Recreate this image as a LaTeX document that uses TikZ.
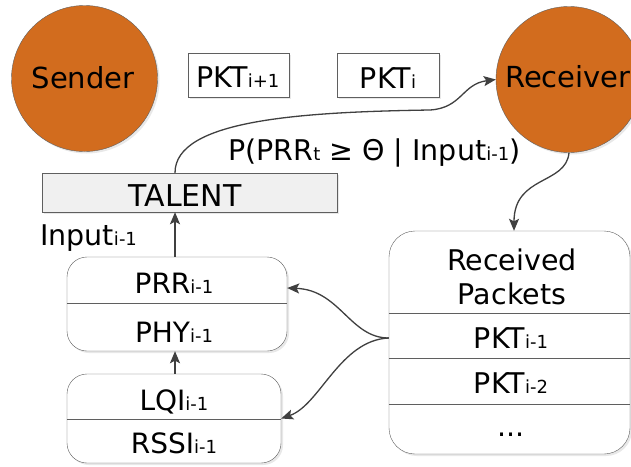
\documentclass[tikz,border=0pt]{standalone}
\usepackage{fontspec}
\setmainfont{DejaVu Sans}
\usetikzlibrary{arrows.meta,shadows}
\definecolor{orng}{RGB}{210,108,30}
\definecolor{edgec}{RGB}{95,95,95}
\definecolor{arrc}{RGB}{64,64,64}
\definecolor{talentfill}{RGB}{240,240,240}
\newcommand\subx[1]{{\fontsize{18}{18}\selectfont #1}}
\newcommand\fsz[1]{\fontsize{#1}{#1}\selectfont}
\begin{document}
\begin{tikzpicture}[x=1pt,y=-1pt,
  shd/.style={drop shadow={opacity=0.18,shadow xshift=2pt,shadow yshift=-2pt}},
  station/.style={circle,draw=edgec,fill=orng,minimum size=146pt,inner sep=0pt,shd},
  pkt/.style={draw=edgec,fill=white,inner sep=0pt,minimum height=44pt,shd},
  rbox/.style={draw=edgec,fill=white,rounded corners=20pt,inner sep=0pt,shd},
  lbl/.style={anchor=base,inner sep=0pt,font=\fsz{28}},
  conn/.style={draw=arrc,line width=1.3pt,-{Stealth[length=12pt,width=10pt,inset=2.5pt]}},
  divl/.style={draw=edgec,line width=0.8pt}
]
\useasboundingbox (0,0) rectangle (631,466);
\fill[white] (0,0) rectangle (631,466);
\clip (0,0) rectangle (631,466);

% stations
\node[station] (sender) at (84.5,78.5) {};
\node[station] (receiver) at (569,79.5) {};
\node[lbl,font=\fsz{29}] (sendertxt) at (83,88) {Sender};
\node[lbl,anchor=base west,font=\fsz{29}] (receivertxt) at (505,87) {Receiver};

% packets in flight
\node[pkt,minimum width=101pt] (pkta) at (238.5,75) {};
\node[pkt,minimum width=102pt] (pktb) at (388,75) {};
\node[lbl,font=\fsz{28.5}] (pktatxt) at (238,87) {PKT\subx{i+1}};
\node[lbl,font=\fsz{28.5}] (pktbtxt) at (388,88) {PKT\subx{i}};

% TALENT
\node[draw=edgec,fill=talentfill,minimum width=295pt,minimum height=39pt,inner sep=0pt,shd] (talent) at (189.5,192.5) {};
\node[lbl,font=\fsz{30}] (talenttxt) at (185,206) {TALENT};

% formula and input label
\node[lbl,anchor=base west,font=\fsz{28.5}] (formula) at (228,160) {P(PRR\subx{t} ≥ Θ | Input\subx{i-1})};
\node[lbl,anchor=base west,font=\fsz{28.5}] (inputtxt) at (40,245) {Input\subx{i-1}};

% feature boxes
\node[rbox,minimum width=220pt,minimum height=94pt] (upbox) at (177,304) {};
\node[rbox,minimum width=214pt,minimum height=89pt] (lowbox) at (174,418.5) {};
\path (0,303) coordinate (ya) (0,419) coordinate (yb);
\draw[divl] (upbox.west |- ya) -- (upbox.east |- ya);
\draw[divl] (lowbox.west |- yb) -- (lowbox.east |- yb);
\node[lbl] (prrtxt) at (174,293) {PRR\subx{i-1}};
\node[lbl] (phytxt) at (174,342) {PHY\subx{i-1}};
\node[lbl] (lqitxt) at (174,410) {LQI\subx{i-1}};
\node[lbl] (rssitxt) at (174,453) {RSSI\subx{i-1}};

% received packets
\node[rbox,rounded corners=26pt,minimum width=241pt,minimum height=223pt] (recbox) at (509.5,342.5) {};
\path (0,313) coordinate (yc) (0,358) coordinate (yd) (0,404) coordinate (ye);
\draw[divl] (recbox.west |- yc) -- (recbox.east |- yc);
\draw[divl] (recbox.west |- yd) -- (recbox.east |- yd);
\draw[divl] (recbox.west |- ye) -- (recbox.east |- ye);
\node[lbl,font=\fsz{28.5}] (rectxt1) at (512,270) {Received};
\node[lbl,font=\fsz{28.5}] (rectxt2) at (512,304) {Packets};
\node[lbl,font=\fsz{28.5}] (rpkt1) at (511,348) {PKT\subx{i-1}};
\node[lbl,font=\fsz{28.5}] (rpkt2) at (511,393) {PKT\subx{i-2}};
\node[lbl,font=\fsz{28.5}] (rdots) at (511,436) {...};

% connectors
\draw[conn] ([xshift=-14.5pt]talent.north) .. controls (175,120) and (300,112) .. (430,110)
   .. controls (462,108) and (462,84) .. (receiver.west);
\draw[conn] (receiver.south) .. controls (566,185) and (514,175) .. ([xshift=4.5pt]recbox.north);
\draw[conn] ([yshift=4.5pt]recbox.west) .. controls (350,338) and (340,290) .. ([yshift=16pt]upbox.east);
\draw[conn] ([yshift=4.5pt]recbox.west) .. controls (340,340) and (320,405) .. (lowbox.east);
\draw[conn] ([xshift=-2pt]upbox.north) -- ([xshift=-14.5pt]talent.south);
\draw[conn] ([xshift=1pt]lowbox.north) -- ([xshift=-2pt]upbox.south);
\end{tikzpicture}
\end{document}
